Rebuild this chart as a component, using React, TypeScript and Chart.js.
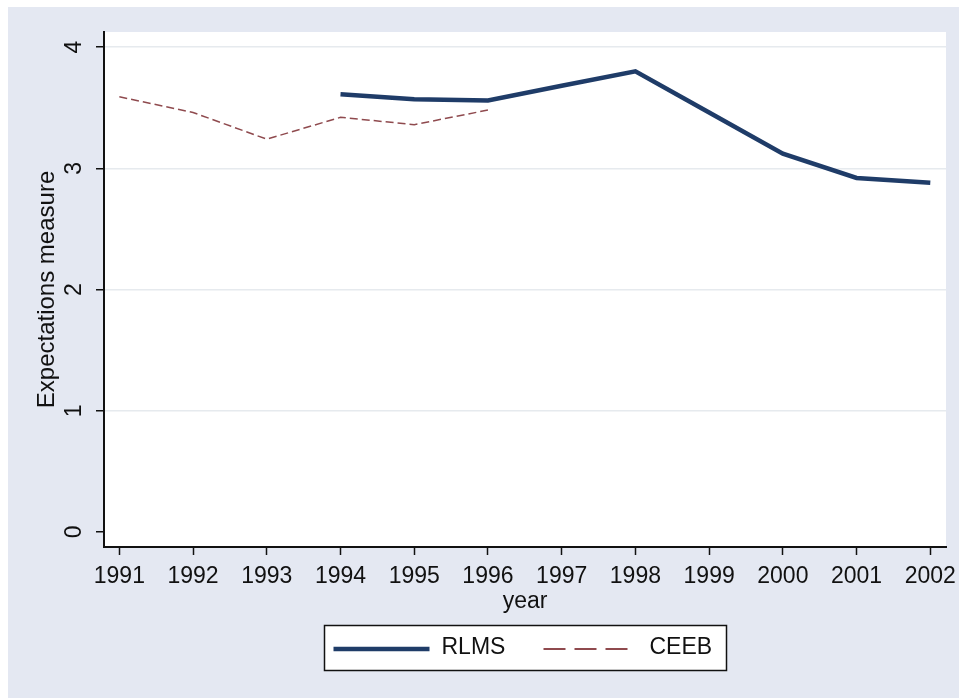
import React, { useEffect, useRef } from "react";
import { Chart, registerables } from "chart.js";

Chart.register(...registerables);

const xTicks = [1991, 1992, 1993, 1994, 1995, 1996, 1997, 1998, 1999, 2000, 2001, 2002];
const yTicks = [0, 1, 2, 3, 4];

const rlmsYears = [1994, 1995, 1996, 1997, 1998, 1999, 2000, 2001, 2002];
const rlmsValues = [3.61, 3.57, 3.56, 3.68, 3.8, 3.46, 3.12, 2.92, 2.88];

const ceebYears = [1991, 1992, 1993, 1994, 1995, 1996];
const ceebValues = [3.59, 3.46, 3.24, 3.42, 3.36, 3.48];

const seriesNames = ["RLMS", "CEEB"];
const xTitle = "year";
const yTitle = "Expectations measure";

const BG = "#E4E8F2";
const RLMS_COLOR = "#1f3c68";
const CEEB_COLOR = "#8f4a4e";
const FONT = "23px 'Liberation Sans', Arial, sans-serif";
const TITLE_FONT = "24px 'Liberation Sans', Arial, sans-serif";

const W = 951;
const H = 691;

const decorPlugin = {
  id: "decor",
  beforeDraw(chart: any) {
    const { ctx, chartArea } = chart;
    ctx.save();
    ctx.fillStyle = BG;
    ctx.fillRect(0, 0, chart.width, chart.height);
    ctx.fillStyle = "#ffffff";
    ctx.fillRect(chartArea.left, chartArea.top, chartArea.right - chartArea.left, chartArea.bottom - chartArea.top);
    ctx.restore();
  },
  afterDraw(chart: any) {
    const { ctx, chartArea } = chart;
    const xs = chart.scales.x;
    const ys = chart.scales.y;
    ctx.save();
    ctx.fillStyle = "#111";
    ctx.font = FONT;
    // x tick labels
    ctx.textAlign = "center";
    ctx.textBaseline = "middle";
    xTicks.forEach((v) => {
      ctx.fillText(String(v), xs.getPixelForValue(v), chartArea.bottom + 30);
    });
    // x title
    ctx.fillText(xTitle, (chartArea.left + chartArea.right) / 2, chartArea.bottom + 55);
    // y tick labels rotated
    yTicks.forEach((v) => {
      ctx.save();
      ctx.translate(chartArea.left - 29, ys.getPixelForValue(v));
      ctx.rotate(-Math.PI / 2);
      ctx.textAlign = "center";
      ctx.textBaseline = "middle";
      ctx.fillText(String(v), 0, 0);
      ctx.restore();
    });
    // y title
    ctx.save();
    ctx.font = TITLE_FONT;
    ctx.translate(chartArea.left - 57, (ys.getPixelForValue(yTicks[1]) + ys.getPixelForValue(yTicks[3])) / 2);
    ctx.rotate(-Math.PI / 2);
    ctx.textAlign = "center";
    ctx.textBaseline = "middle";
    ctx.fillText(yTitle, 0, 0);
    ctx.restore();

    // legend
    const bw = 402;
    const bh = 45;
    const cx = (chartArea.left + chartArea.right) / 2;
    const L = Math.round(cx - bw / 2) + 0.5;
    const T = chartArea.bottom + 78.5;
    ctx.fillStyle = "#ffffff";
    ctx.fillRect(L, T, bw, bh);
    ctx.strokeStyle = "#111";
    ctx.lineWidth = 1.5;
    ctx.strokeRect(L, T, bw, bh);
    const my = T + bh / 2;
    ctx.lineWidth = 4.5;
    ctx.strokeStyle = RLMS_COLOR;
    ctx.beginPath();
    ctx.moveTo(L + 9, my + 1);
    ctx.lineTo(L + 105, my + 1);
    ctx.stroke();
    ctx.lineWidth = 1.8;
    ctx.strokeStyle = CEEB_COLOR;
    ctx.setLineDash([22, 9]);
    ctx.beginPath();
    ctx.moveTo(L + 219, my + 1);
    ctx.lineTo(L + 307, my + 1);
    ctx.stroke();
    ctx.setLineDash([]);
    ctx.fillStyle = "#111";
    ctx.textAlign = "left";
    ctx.textBaseline = "middle";
    ctx.fillText(seriesNames[0], L + 117, my);
    ctx.fillText(seriesNames[1], L + 325, my);
    ctx.restore();
  },
};

export default function App() {
  const ref = useRef<HTMLCanvasElement>(null);
  useEffect(() => {
    if (!ref.current) return;
    const chart = new Chart(ref.current, {
      type: "line",
      data: {
        datasets: [
          {
            label: seriesNames[0],
            data: rlmsYears.map((x, i) => ({ x, y: rlmsValues[i] })),
            borderColor: RLMS_COLOR,
            borderWidth: 4.5,
            pointRadius: 0,
            tension: 0,
            fill: false,
          },
          {
            label: seriesNames[1],
            data: ceebYears.map((x, i) => ({ x, y: ceebValues[i] })),
            borderColor: CEEB_COLOR,
            borderWidth: 1.5,
            borderDash: [8, 4],
            pointRadius: 0,
            tension: 0,
            fill: false,
          },
        ],
      },
      options: {
        animation: false,
        responsive: false,
        devicePixelRatio: 1,
        layout: { padding: { top: 25, right: 13, left: 0, bottom: 0 } },
        plugins: { legend: { display: false }, tooltip: { enabled: false } },
        scales: {
          x: {
            type: "linear",
            min: 1990.792,
            max: 2002.213,
            afterBuildTicks: (s: any) => {
              s.ticks = xTicks.map((v) => ({ value: v }));
            },
            afterFit: (s: any) => {
              s.height = 151;
            },
            ticks: { display: false },
            grid: { drawOnChartArea: false, drawTicks: true, tickLength: 8, tickColor: "#111", tickWidth: 1.5 },
            border: { display: true, color: "#111", width: 2 },
          },
          y: {
            type: "linear",
            min: -0.124,
            max: 4.124,
            afterBuildTicks: (s: any) => {
              s.ticks = yTicks.map((v) => ({ value: v }));
            },
            afterFit: (s: any) => {
              s.width = 96;
            },
            ticks: { display: false },
            grid: {
              color: (c: any) => (c.tick && c.tick.value === 0 ? "rgba(0,0,0,0)" : "#E6EAEE"),
              lineWidth: 1.5,
              drawTicks: true,
              tickLength: 8,
              tickColor: "#111",
              tickWidth: 1.5,
            },
            border: { display: true, color: "#111", width: 2 },
          },
        },
      },
      plugins: [decorPlugin],
    } as any);
    return () => chart.destroy();
  }, []);
  return (
    <div style={{ position: "fixed", left: 8, top: 7, width: W, height: H }}>
      <canvas ref={ref} width={W} height={H} style={{ width: W, height: H, display: "block" }} />
    </div>
  );
}
